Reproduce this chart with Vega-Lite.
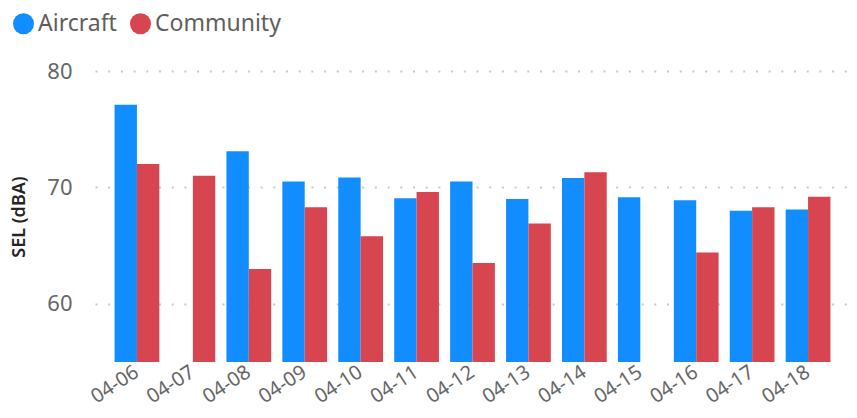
{
  "$schema": "https://vega.github.io/schema/vega-lite/v6.json",
  "width": 755,
  "height": 291,
  "autosize": {"type": "none"},
  "padding": {"left": 95, "top": 71, "right": 7, "bottom": 56},
  "background": "white",
  "config": {
    "font": "Noto Sans",
    "view": {"stroke": null}
  },
  "data": {
    "values": [
      {"date": "04-06", "series": "Aircraft", "sel": 77.1},
      {"date": "04-06", "series": "Community", "sel": 72.0},
      {"date": "04-07", "series": "Community", "sel": 71.0},
      {"date": "04-08", "series": "Aircraft", "sel": 73.1},
      {"date": "04-08", "series": "Community", "sel": 63.0},
      {"date": "04-09", "series": "Aircraft", "sel": 70.5},
      {"date": "04-09", "series": "Community", "sel": 68.3},
      {"date": "04-10", "series": "Aircraft", "sel": 70.85},
      {"date": "04-10", "series": "Community", "sel": 65.8},
      {"date": "04-11", "series": "Aircraft", "sel": 69.06},
      {"date": "04-11", "series": "Community", "sel": 69.6},
      {"date": "04-12", "series": "Aircraft", "sel": 70.5},
      {"date": "04-12", "series": "Community", "sel": 63.5},
      {"date": "04-13", "series": "Aircraft", "sel": 69.0},
      {"date": "04-13", "series": "Community", "sel": 66.9},
      {"date": "04-14", "series": "Aircraft", "sel": 70.8},
      {"date": "04-14", "series": "Community", "sel": 71.3},
      {"date": "04-15", "series": "Aircraft", "sel": 69.15},
      {"date": "04-16", "series": "Aircraft", "sel": 68.9},
      {"date": "04-16", "series": "Community", "sel": 64.4},
      {"date": "04-17", "series": "Aircraft", "sel": 68.0},
      {"date": "04-17", "series": "Community", "sel": 68.3},
      {"date": "04-18", "series": "Aircraft", "sel": 68.1},
      {"date": "04-18", "series": "Community", "sel": 69.2}
    ]
  },
  "mark": {"type": "bar", "clip": true},
  "encoding": {
    "x": {
      "field": "date",
      "type": "ordinal",
      "scale": {"paddingInner": 0.2, "paddingOuter": 0.35},
      "axis": {
        "title": null,
        "domain": false,
        "ticks": false,
        "labelAngle": -33,
        "labelAlign": "right",
        "labelBaseline": "middle",
        "labelFontSize": 20,
        "labelColor": "#666666",
        "labelPadding": 8
      }
    },
    "xOffset": {"field": "series", "type": "nominal", "scale": {"paddingInner": 0, "paddingOuter": 0}},
    "y": {
      "field": "sel",
      "type": "quantitative",
      "scale": {"domain": [55, 80], "nice": false, "zero": false},
      "axis": {
        "title": "SEL (dBA)",
        "titleFontSize": 18,
        "titleFontWeight": 600,
        "titleColor": "#252423",
        "titlePadding": 18,
        "values": [60, 70, 80],
        "domain": false,
        "ticks": false,
        "labelFontSize": 22,
        "labelColor": "#666666",
        "labelPadding": 23,
        "grid": true,
        "gridColor": "#C8C8C8",
        "gridWidth": 2,
        "gridDash": [2, 10.7]
      }
    },
    "color": {
      "field": "series",
      "type": "nominal",
      "scale": {"domain": ["Aircraft", "Community"], "range": ["#118DFF", "#D64550"]},
      "legend": {
        "title": null,
        "orient": "none",
        "legendX": -83,
        "legendY": -59,
        "direction": "horizontal",
        "symbolType": "circle",
        "symbolSize": 441,
        "symbolStrokeWidth": 0,
        "labelFontSize": 23,
        "labelColor": "#605E5C",
        "labelOffset": 3,
        "columnPadding": 12
      }
    }
  }
}
